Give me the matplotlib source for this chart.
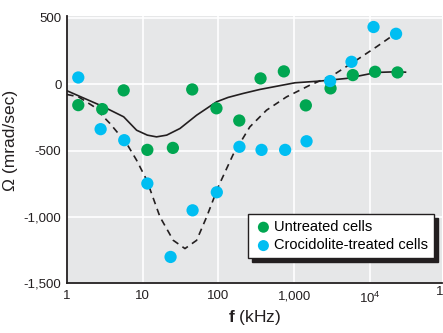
import numpy as np
import matplotlib
matplotlib.use("Agg")
import matplotlib.pyplot as plt

plt.rcParams['font.family'] = ['Liberation Sans', 'DejaVu Sans']
plt.rcParams['mathtext.fontset'] = 'custom'
plt.rcParams['mathtext.rm'] = 'Liberation Sans'
plt.rcParams['mathtext.bf'] = 'Liberation Sans:bold'

# measured points (f in kHz, Omega in mrad/sec)
f_untreated = [1.41, 2.92, 5.6, 11.5, 25, 45, 94, 188, 359, 729, 1422, 3013, 5930, 11670, 23070]
om_untreated = [-158, -188, -47, -495, -480, -40, -182, -274, 43, 96, -160, -32, 68, 93, 88]

f_treated = [1.41, 2.78, 5.7, 11.5, 23.3, 45.5, 95, 189, 370, 758, 1453, 2977, 5700, 11130, 22080]
om_treated = [50, -339, -422, -748, -1301, -950, -814, -472, -495, -495, -430, 23, 168, 430, 379]

# fitted curves
f_fit_u = [1, 2.92, 5.6, 8.3, 11.5, 15.2, 20.7, 31, 51.4, 94.4, 134, 212, 352, 1018, 2178, 4900, 12190, 22390, 29400]
om_fit_u = [-50, -166, -246, -347, -384, -397, -384, -334, -234, -133, -100, -70, -40, 10, 23, 43, 88, 93, 90]

f_fit_t = [1, 1.41, 2.22, 3.69, 6.13, 8.3, 11.3, 16.9, 25.3, 36.1, 51.4, 69.7, 99, 156, 259, 431, 791, 1607, 3260, 6640, 12190, 26060]
om_fit_t = [-78, -95, -166, -296, -447, -573, -723, -1000, -1176, -1238, -1176, -1000, -774, -530, -322, -196, -96, -8, 68, 181, 281, 412]

green = '#00a651'
blue = '#00bef2'
ink = '#231f20'

fig = plt.figure(figsize=(4.43, 3.33), dpi=100)
ax = fig.add_axes([0.1512, 0.149, 0.8458, 0.803])
ax.set_facecolor('#e6e7e8')

ax.plot(f_fit_u, om_fit_u, color=ink, lw=1.2, zorder=2)
ax.plot(f_fit_t, om_fit_t, color=ink, lw=1.2, ls=(0, (4, 3)), zorder=2)
ax.scatter(f_untreated, om_untreated, s=78, color=green, edgecolors='none', zorder=3, label='Untreated cells')
ax.scatter(f_treated, om_treated, s=78, color=blue, edgecolors='none', zorder=3, label='Crocidolite-treated cells')

ax.set_xscale('log')
ax.set_xlim(1, 10 ** 4.946)
ax.set_ylim(-1500, 513)

ax.set_xticks([1, 10, 100, 1000, 1e4])
ax.set_xticklabels(['1', '10', '100', '1,000', r'$10^4$'])
ax.xaxis.set_minor_locator(matplotlib.ticker.NullLocator())
# the 10^5 label sits past the right edge, cut off like in the original
ax.text(1e5, -1500, r'$10^5$', ha='center', va='top', fontsize=9.5, color=ink,
        transform=ax.transData, clip_on=False)
ax.set_yticks([500, 0, -500, -1000, -1500])
ax.set_yticklabels(['500', '0', '-500', '-1,000', '-1,500'])
ax.tick_params(length=0, labelsize=9.5, colors=ink, pad=4)
ax.tick_params(axis='x', pad=5)

ax.grid(True, color='white', lw=1.2)
ax.set_axisbelow(True)
for s in ['top', 'right']:
    ax.spines[s].set_visible(False)
for s in ['left', 'bottom']:
    ax.spines[s].set_color(ink)
    ax.spines[s].set_linewidth(1.3)

ax.set_ylabel('Ω (mrad/sec)', fontsize=12.5, color=ink)
ax.yaxis.set_label_coords(-0.13, 0.535)
ax.set_xlabel(r'$\mathbf{f}$ (kHz)', fontsize=12.5, color=ink, labelpad=2)

leg = ax.legend(loc='lower right', bbox_to_anchor=(0.98, 0.094), borderaxespad=0,
                fontsize=10.5, frameon=True, fancybox=False, handletextpad=0.1,
                borderpad=0.4, labelspacing=0.3, handlelength=1.3, markerscale=0.9,
                shadow={'color': ink, 'alpha': 1, 'ox': 3, 'oy': -3})
leg.get_frame().set_edgecolor(ink)
leg.get_frame().set_linewidth(1)

fig.savefig('out.png', dpi=100)
